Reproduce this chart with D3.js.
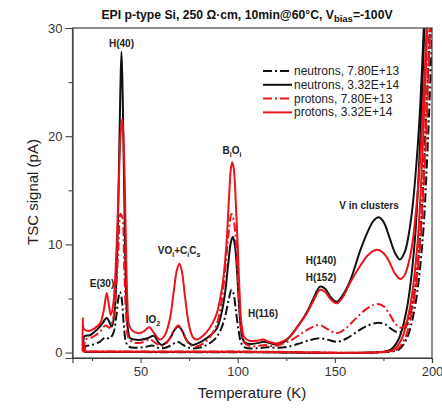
<!DOCTYPE html>
<html>
<head>
<meta charset="utf-8">
<script src="https://cdn.jsdelivr.net/npm/d3@7"></script>
<style>
  body { margin: 0; background: #fff; }
  svg { display: block; font-family: Arial, "Liberation Sans", sans-serif; }
</style>
</head>
<body>
<div id="chart"></div>
<script>
// TSC spectra, [temperature K, signal pA]; cooling baseline first, then heating scan
var nLowCool = [[200.5,32],[198,20],[195,10],[191,4],[187,1.3],[183,0.3],[178,0.08],[100,0.04],[21.5,0.05]];
var nLowHeat = [[21.5,0.1],[21.6,0.55],[25,0.7],[29,1.0],[32,1.4],[34,1.3],[36,1.8],[37.5,3.3],[38.6,5.0],[39.4,5.6],[40.3,5.0],[41.3,2.8],[42.5,1.0],[44,0.55],[48,0.45],[52,0.5],[56,0.65],[59,0.45],[62,0.4],[66,0.7],[69,1.0],[72,0.7],[76,0.4],[80,0.45],[84,0.7],[88,1.2],[91,2.0],[93.5,3.3],[95.5,5.0],[96.8,5.8],[97.8,5.5],[99,4.0],[100.5,2.0],[102,0.8],[104,0.45],[110,0.4],[115,0.5],[120,0.45],[126,0.55],[132,0.85],[137,1.15],[142,1.32],[146,1.2],[151,1.0],[156,1.3],[162,2.0],[167,2.5],[172.5,2.76],[176,2.6],[179,2.2],[182,1.9],[185,2.0],[188,3.0],[191,5.5],[194,11],[197,22],[199.5,32]];

var nHighCool = [[196.5,32],[194,20],[191,10],[187,4],[183,1.3],[179,0.3],[175,0.08],[100,0.05],[21,0.05]];
var nHighHeat = [[21,0.1],[21.1,1.5],[24,1.6],[27.5,2.1],[30,2.6],[32.6,3.2],[34,2.8],[35.2,2.4],[36.5,3.5],[37.8,8],[38.8,16],[39.6,24],[40.2,27.8],[40.8,24],[41.6,15],[42.5,6],[43.5,2.2],[44.6,1.35],[47,1.2],[51,1.2],[54,1.35],[56.9,1.55],[59,1.0],[60.9,0.7],[63,0.9],[65.5,1.4],[67.5,2.1],[69.5,2.4],[71.5,2.0],[73.5,1.2],[75.5,0.8],[77.2,0.7],[80,0.9],[83,1.2],[86,1.6],[89.2,2.2],[91.5,3.5],[93.5,5.5],[95.2,8.3],[96.5,10.2],[97.5,10.7],[98.5,10.0],[99.5,8.0],[100.5,5.0],[101.5,2.5],[102.5,1.3],[104,0.9],[107,0.8],[111,0.9],[113,1.0],[116,0.9],[120,0.75],[124,1.0],[127,1.5],[132,2.7],[135.5,3.7],[139,5.0],[142.4,6.1],[145,5.9],[148,5.1],[151,4.7],[154,5.3],[158,6.7],[163,9.4],[167,11.2],[170,12.2],[172.5,12.5],[175,12.1],[178,10.7],[181,9.2],[183.5,8.6],[186,9.3],[188,10.9],[190,13.5],[192,17.5],[194,23],[196,31]];

var pLowCool = [[199.5,32],[197,20],[194,10],[190,4],[186,1.3],[182,0.3],[177,0.08],[100,0.1],[21.5,0.1]];
var pLowHeat = [[21.5,0.15],[21.6,1.2],[25,1.4],[29,1.9],[32,2.5],[34,2.3],[36,3.2],[37.5,6],[38.7,10],[39.7,12.8],[40.6,12.5],[41.6,8],[42.6,3.5],[44,1.3],[47,0.9],[51,0.95],[55,1.2],[58,0.85],[61,0.6],[64,1.0],[67,2.0],[69.5,2.5],[72,1.8],[75,0.8],[78,0.55],[82,0.8],[86,1.5],[89,2.5],[91.5,4.5],[93.5,7.5],[95.3,11],[96.8,12.8],[98,12.2],[99.3,9.5],[100.5,5.5],[101.7,2.4],[103,1.0],[106,0.6],[110,0.6],[114,0.7],[118,0.6],[122,0.75],[128,1.2],[134,1.9],[139,2.4],[142,2.55],[146,2.2],[151,1.8],[156,2.3],[161,3.2],[166,4.0],[171.5,4.5],[175,4.3],[178,3.6],[181,2.7],[184,2.3],[187,2.8],[190,4.8],[193,9],[196,17],[199,32]];

var pHighCool = [[198,32],[195.5,20],[192.5,10],[188.5,4],[184.5,1.3],[180.5,0.3],[176,0.08],[100,0.08],[20.2,0.1]];
var pHighHeat = [[20.2,0.1],[20.3,3.2],[20.8,2.2],[23,2.0],[26,2.2],[29.2,2.7],[31,3.8],[32.6,5.5],[33.8,4.3],[34.7,3.5],[36,4.5],[37.5,9],[38.7,15],[39.8,20.3],[40.6,21.6],[41.4,19],[42.3,12],[43.2,5],[44.2,2.5],[46,2.0],[49.7,1.8],[52,2.0],[54.5,2.35],[57,1.8],[60,1.2],[62.5,1.6],[65,3.0],[67,5.5],[68.7,7.6],[70,8.2],[71.3,7.5],[73,5.0],[75,2.5],[77,1.4],[78.9,1.2],[81,1.4],[84,1.9],[87,2.7],[89.2,3.6],[91,5.0],[92.6,6.8],[94.2,10],[95.6,14.5],[96.5,17],[97.2,17.6],[98,17],[99,14],[100,10],[101,5.5],[102,2.6],[103.5,1.4],[106,1.1],[110,1.1],[113,1.2],[116,1.0],[120,0.85],[124,1.1],[127,1.5],[132,2.7],[135.5,3.6],[139,4.8],[142.4,5.8],[145,5.6],[148,4.9],[151,4.55],[154,5.1],[158,6.5],[163,8.0],[167,9.0],[171.5,9.5],[175,9.2],[178,8.4],[181,7.3],[183.8,6.8],[186,7.2],[188,8.3],[190,10.2],[192,13.5],[194,18],[196,25],[197.5,31]];

var seriesNames = ['neutrons, 7.80E+13', 'neutrons, 3.32E+14', 'protons, 7.80E+13', 'protons, 3.32E+14'];
var xTicks = [50, 100, 150, 200];
var xMinor = [25, 75, 125, 175];
var yTicks = [0, 10, 20, 30];
var yMinor = [5, 15, 25];

var series = [
    { name: seriesNames[0], cool: nLowCool, heat: nLowHeat, color: '#111', dash: '9,3,2,3' },
    { name: seriesNames[1], cool: nHighCool, heat: nHighHeat, color: '#111', dash: null },
    { name: seriesNames[2], cool: pLowCool, heat: pLowHeat, color: '#e8141c', dash: '9,3,2,3' },
    { name: seriesNames[3], cool: pHighCool, heat: pHighHeat, color: '#e8141c', dash: null }
];

var W = 442, H = 408;
var mLeft = 72.5, mRight = 432, mTop = 28, mBottom = 358;

var x = d3.scaleLinear().domain([15, 200]).range([mLeft, mRight]);
var y = d3.scaleLinear().domain([-0.5, 30]).range([mBottom, mTop]);

var svg = d3.select('#chart').append('svg')
    .attr('width', W)
    .attr('height', H);

svg.append('defs').append('clipPath').attr('id', 'plotClip')
    .append('rect')
    .attr('x', mLeft).attr('y', mTop)
    .attr('width', mRight - mLeft).attr('height', mBottom - mTop);

var lineSmooth = d3.line()
    .x(function(d) { return x(d[0]); })
    .y(function(d) { return y(d[1]); })
    .curve(d3.curveCatmullRom.alpha(0.5));

var plot = svg.append('g').attr('clip-path', 'url(#plotClip)');

series.forEach(function(s) {
    // cooling baseline and heating scan, same style
    [s.cool, s.heat].forEach(function(pts) {
        plot.append('path')
            .attr('d', lineSmooth(pts))
            .attr('fill', 'none')
            .attr('stroke', s.color)
            .attr('stroke-width', 2)
            .attr('stroke-linejoin', 'round')
            .attr('stroke-dasharray', s.dash);
    });
});

// frame
svg.append('rect')
    .attr('x', mLeft).attr('y', mTop)
    .attr('width', mRight - mLeft).attr('height', mBottom - mTop)
    .attr('fill', 'none')
    .attr('stroke', '#444')
    .attr('stroke-width', 1.2);

// axes
svg.append('g')
    .attr('transform', 'translate(0,' + mBottom + ')')
    .call(d3.axisBottom(x).tickValues(xTicks).tickSize(5).tickPadding(4));
svg.append('g')
    .attr('transform', 'translate(0,' + mBottom + ')')
    .call(d3.axisBottom(x).tickValues(xMinor).tickSize(3).tickFormat(''))
    .select('.domain').remove();

svg.append('g')
    .attr('transform', 'translate(' + mLeft + ',0)')
    .call(d3.axisLeft(y).tickValues(yTicks).tickSize(7).tickPadding(3));
svg.append('g')
    .attr('transform', 'translate(' + mLeft + ',0)')
    .call(d3.axisLeft(y).tickValues(yMinor).tickSize(4).tickFormat(''))
    .select('.domain').remove();

svg.selectAll('.domain').attr('stroke', '#444').attr('stroke-width', 1.2);
svg.selectAll('.tick line').attr('stroke', '#444').attr('stroke-width', 1.1);
svg.selectAll('.tick text')
    .style('font-size', '13px')
    .style('font-family', 'Arial, "Liberation Sans", sans-serif')
    .attr('fill', '#333');

// title
var title = svg.append('text')
    .attr('x', 247).attr('y', 19)
    .attr('text-anchor', 'middle')
    .style('font-size', '12.2px')
    .style('font-weight', 'bold')
    .attr('fill', '#111');
title.append('tspan').text('EPI p-type Si, 250 \u03A9\u00B7cm, 10min@60\u00B0C, V');
title.append('tspan').attr('dy', 3).style('font-size', '9.5px').text('bias');
title.append('tspan').attr('dy', -3).text('=-100V');

svg.append('text')
    .attr('transform', 'translate(38,192) rotate(-90)')
    .attr('text-anchor', 'middle')
    .style('font-size', '15px')
    .attr('fill', '#222')
    .text('TSC signal (pA)');

svg.append('text')
    .attr('x', 252).attr('y', 398)
    .attr('text-anchor', 'middle')
    .style('font-size', '15px')
    .attr('fill', '#222')
    .text('Temperature (K)');

// peak labels
function label(px, py, parts) {
    var t = svg.append('text')
        .attr('x', px).attr('y', py)
        .attr('text-anchor', 'middle')
        .style('font-size', '10px')
        .style('font-weight', 'bold')
        .attr('fill', '#222');
    parts.forEach(function(p) {
        var s = t.append('tspan').text(p[0]);
        if (p[1] === 'sub') s.attr('dy', 2.5).style('font-size', '7px');
        if (p[1] === 'up') s.attr('dy', -2.5);
    });
}
label(121.5, 47, [['H(40)']]);
label(102, 287, [['E(30)']]);
label(153, 323, [['IO'], ['2', 'sub']]);
label(179, 254, [['VO'], ['i', 'sub'], ['+C', 'up'], ['i', 'sub'], ['C', 'up'], ['s', 'sub']]);
label(232, 154, [['B'], ['i', 'sub'], ['O', 'up'], ['i', 'sub']]);
label(263, 317, [['H(116)']]);
label(321, 264, [['H(140)']]);
label(321, 281, [['H(152)']]);
label(369, 209, [['V in clusters']]);

// legend
var legend = svg.append('g');
series.forEach(function(s, i) {
    var ly = 71 + i * 13.8;
    legend.append('line')
        .attr('x1', 263).attr('x2', 292)
        .attr('y1', ly).attr('y2', ly)
        .attr('stroke', s.color)
        .attr('stroke-width', 2)
        .attr('stroke-dasharray', s.dash);
    legend.append('text')
        .attr('x', 294).attr('y', ly + 4)
        .style('font-size', '12px')
        .attr('fill', '#222')
        .text(s.name);
});
</script>
</body>
</html>
